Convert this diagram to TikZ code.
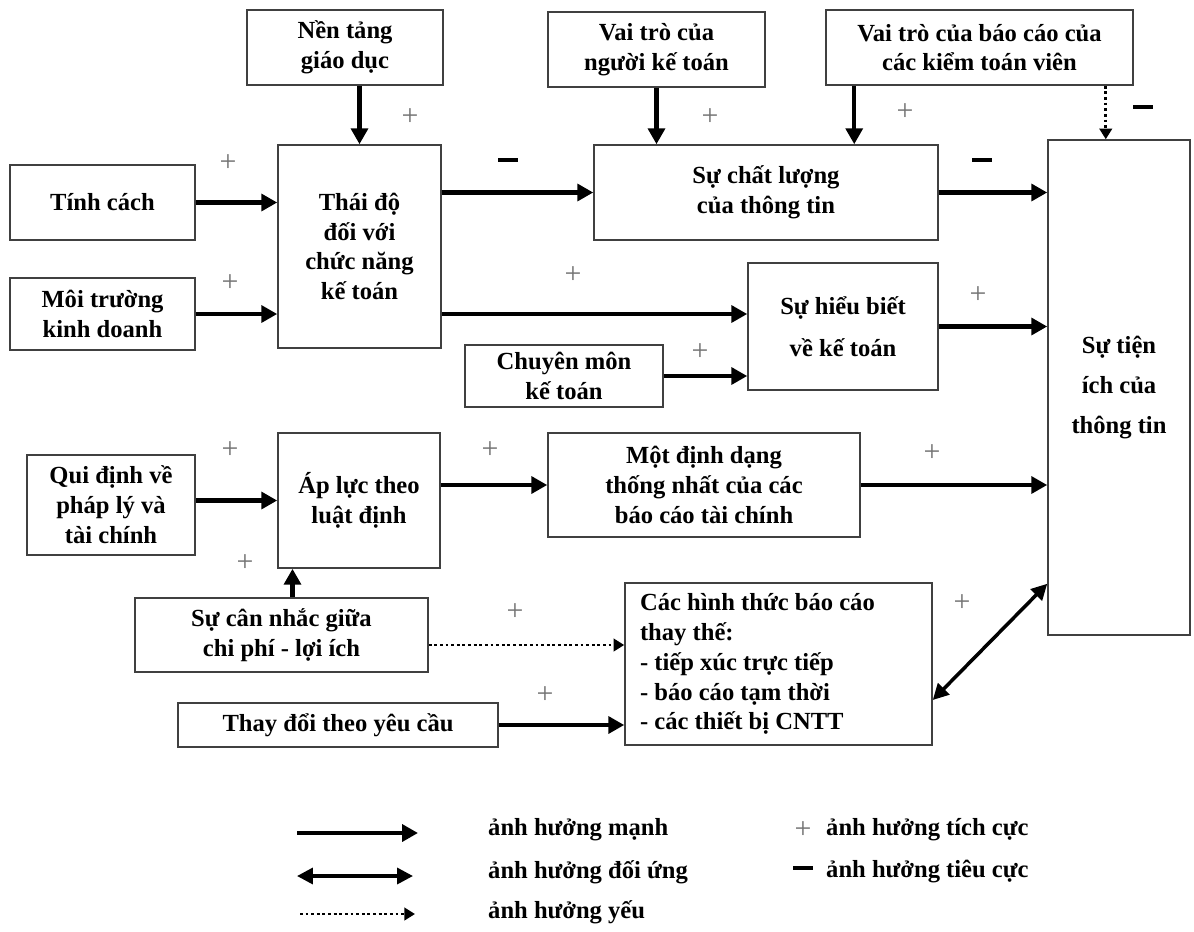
\documentclass[tikz,border=0pt]{standalone}
\usepackage{fontspec}
\setmainfont{Liberation Serif}
\usetikzlibrary{arrows.meta}

\begin{document}
\begin{tikzpicture}[x=0.02cm, y=-0.02cm,
	box/.style={draw=black!75, line width=0.9pt, align=center, inner sep=2pt, font=\fontsize{14}{17}\selectfont\bfseries},
	strong/.style={line width=2.4pt, -{Triangle[length=9pt,width=9.5pt]}},
	mutual/.style={line width=2pt, {Triangle[length=9pt,width=9pt]}-{Triangle[length=9pt,width=9pt]}},
	weak/.style={line width=1.5pt, dash pattern=on 1.6pt off 1.6pt, -{Triangle[length=6pt,width=7pt]}},
	plus/.style={text=black!55, font=\fontsize{17}{17}\selectfont},
	minus/.style={inner sep=1pt},
	legend/.style={anchor=west, font=\fontsize{14}{17}\selectfont\bfseries}]
	\useasboundingbox (0,0) rectangle (1194,931);
	% hang tren
	\node[box, minimum width=3.92cm, minimum height=1.5cm] (nen) at (345,47.5) {Nền tảng\\giáo dục};
	\node[box, minimum width=4.34cm, minimum height=1.5cm] (vtnkt) at (656.5,49.5) {Vai trò của\\người kế toán};
	\node[box, minimum width=6.14cm, minimum height=1.5cm] (vtkt) at (979.5,47.5) {Vai trò của báo cáo của\\các kiểm toán viên};
	% cot trai
	\node[box, minimum width=3.7cm, minimum height=1.5cm] (tinhcach) at (102.5,202.5) {Tính cách};
	\node[box, minimum width=3.7cm, minimum height=1.44cm] (moitruong) at (102.5,314) {Môi trường\\kinh doanh};
	\node[box, minimum width=3.36cm, minimum height=2cm] (quidinh) at (111,505) {Qui định về\\pháp lý và\\tài chính};
	% giua
	\node[box, minimum width=3.26cm, minimum height=4.06cm] (thaido) at (359.5,246.5) {Thái độ\\đối với\\chức năng\\kế toán};
	\node[box, minimum width=3.24cm, minimum height=2.7cm] (apluc) at (359,500.5) {Áp lực theo\\luật định};
	\node[box, minimum width=5.86cm, minimum height=1.48cm] (cannhac) at (281.5,635) {Sự cân nhắc giữa\\chi phí - lợi ích};
	\node[box, minimum width=6.4cm, minimum height=0.88cm] (thaydoi) at (338,725) {Thay đổi theo yêu cầu};
	\node[box, minimum width=3.96cm, minimum height=1.24cm] (chuyenmon) at (564,376) {Chuyên môn\\kế toán};
	\node[box, minimum width=6.88cm, minimum height=1.9cm] (chatluong) at (766,192.5) {Sự chất lượng\\của thông tin};
	\node[box, minimum width=3.8cm, minimum height=2.54cm, font=\fontsize{14}{24}\selectfont\bfseries] (hieubiet) at (843,326.5) {Sự hiểu biết\\về kế toán};
	\node[box, minimum width=6.24cm, minimum height=2.08cm] (dinhdang) at (704,485) {Một định dạng\\thống nhất của các\\báo cáo tài chính};
	\node[box, minimum height=3.24cm, inner xsep=0.3cm, text width=5.54cm, align=flush left] (hinhthuc) at (778.5,664) {Các hình thức báo cáo\\thay thế:\\- tiếp xúc trực tiếp\\- báo cáo tạm thời\\- các thiết bị CNTT};
	% cot phai
	\node[box, minimum width=2.84cm, minimum height=9.9cm, font=\fontsize{14}{23}\selectfont\bfseries] (tienich) at (1119,387.5) {Sự tiện\\ích của\\thông tin};

	% mui ten
	\draw[strong] (nen.south -| thaido.north) -- (thaido.north);
	\draw[strong] (vtnkt.south) -- (vtnkt.south |- chatluong.north);
	\draw[strong] ([xshift=0.58cm]vtkt.south west) -- ([xshift=0.58cm]vtkt.south west |- chatluong.north);
	\draw[weak] ([xshift=-0.56cm]vtkt.south east) -- ([xshift=-0.56cm]vtkt.south east |- tienich.north);
	\draw[strong] (tinhcach.east) -- (tinhcach.east -| thaido.west);
	\draw[strong] (moitruong.east) -- (moitruong.east -| thaido.west);
	\draw[strong] (chatluong.west -| thaido.east) -- (chatluong.west);
	\draw[strong] (moitruong.east -| thaido.east) -- (moitruong.east -| hieubiet.west);
	\draw[strong] (chuyenmon.east) -- (chuyenmon.east -| hieubiet.west);
	\draw[strong] (chatluong.east) -- (chatluong.east -| tienich.west);
	\draw[strong] (hieubiet.east) -- (hieubiet.east -| tienich.west);
	\draw[strong] (quidinh.east |- apluc.west) -- (apluc.west);
	\draw[strong] (apluc.east |- dinhdang.west) -- (dinhdang.west);
	\draw[strong] (dinhdang.east) -- (dinhdang.east -| tienich.west);
	\draw[strong] ([xshift=0.22cm]cannhac.north) -- ([xshift=0.22cm]cannhac.north |- apluc.south);
	\draw[weak] ([yshift=-0.2cm]cannhac.east) -- ([yshift=-0.2cm]cannhac.east -| hinhthuc.west);
	\draw[strong] (thaydoi.east) -- (thaydoi.east -| hinhthuc.west);
	\draw[mutual] ([yshift=-0.72cm]hinhthuc.east) -- ([yshift=1.04cm]tienich.south west);

	% dau + va -
	\node[plus] (p1) at (410,117) {+};
	\node[plus] (p2) at (710,117) {+};
	\node[plus] (p3) at (905,112) {+};
	\node[minus] (m1) at (1143,107) {\rule{11pt}{2pt}};
	\node[plus] (p4) at (228,163) {+};
	\node[plus] (p5) at (230,283) {+};
	\node[minus] (m2) at (508,160) {\rule{11pt}{2pt}};
	\node[plus] (p6) at (573,275) {+};
	\node[plus] (p7) at (700,352) {+};
	\node[minus] (m3) at (982,160) {\rule{11pt}{2pt}};
	\node[plus] (p8) at (978,295) {+};
	\node[plus] (p9) at (230,450) {+};
	\node[plus] (p10) at (490,450) {+};
	\node[plus] (p11) at (932,453) {+};
	\node[plus] (p12) at (245,563) {+};
	\node[plus] (p13) at (515,612) {+};
	\node[plus] (p14) at (545,695) {+};
	\node[plus] (p15) at (962,603) {+};

	% chu thich
	\coordinate (l1a) at (297,833); \coordinate (l1b) at (418,833);
	\coordinate (l2a) at (297,876); \coordinate (l2b) at (413,876);
	\coordinate (l3a) at (300,914); \coordinate (l3b) at (415,914);
	\draw[strong] (l1a) -- (l1b);
	\draw[mutual] (l2a) -- (l2b);
	\draw[weak] (l3a) -- (l3b);
	\node[legend] (t1) at (482,830) {ảnh hưởng mạnh};
	\node[legend] (t2) at (482,872) {ảnh hưởng đối ứng};
	\node[legend] (t3) at (482,912) {ảnh hưởng yếu};
	\node[plus] (lp) at (803,830) {+};
	\node[minus] (lm) at (803,868) {\rule{11pt}{2pt}};
	\node[legend] (t4) at (820,830) {ảnh hưởng tích cực};
	\node[legend] (t5) at (820,872) {ảnh hưởng tiêu cực};
\end{tikzpicture}
\end{document}
